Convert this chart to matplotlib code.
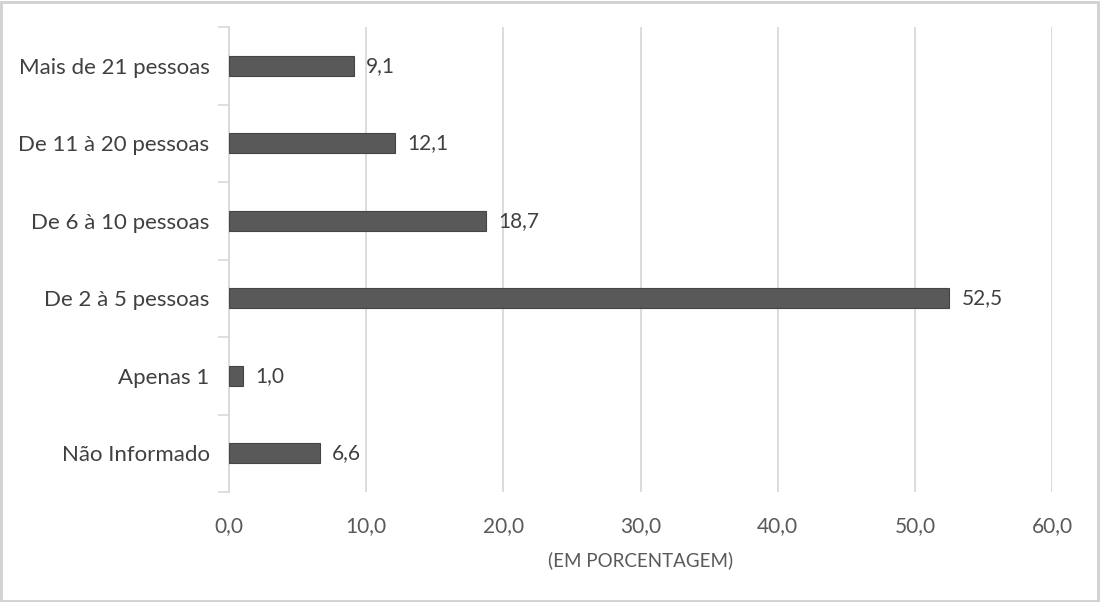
import matplotlib.pyplot as plt
from matplotlib.patches import Rectangle

categories = ["Não Informado", "Apenas 1", "De 2 à 5 pessoas",
              "De 6 à 10 pessoas", "De 11 à 20 pessoas", "Mais de 21 pessoas"]
values = [6.6, 1.0, 52.5, 18.7, 12.1, 9.1]
xticks = [0, 10, 20, 30, 40, 50, 60]

text_color = "#595959"
grid_color = "#d9d9d9"

plt.rcParams["font.family"] = ["Lato", "DejaVu Sans"]

fig = plt.figure(figsize=(11, 6.02), dpi=100)
ax = fig.add_axes([0.2082, 0.1827, 0.7482, 0.7724])

pos = range(len(categories))
ax.barh(pos, values, height=0.26, color="#595959", edgecolor="#454545",
        linewidth=0.8, zorder=3)

for y, v in zip(pos, values):
    ax.text(v + 0.9, y, f"{v:.1f}".replace(".", ","), va="center", ha="left",
            fontsize=15, color="#404040")

ax.set_xlim(0, 60)
ax.set_ylim(-0.5, len(categories) - 0.5)
ax.set_xticks(xticks)
ax.set_xticklabels([f"{t:.1f}".replace(".", ",") for t in xticks],
                   fontsize=15, color=text_color)
ax.set_yticks(list(pos))
ax.set_yticklabels(categories, fontsize=16, color="#404040")
ax.tick_params(axis="y", length=0, pad=14)
ax.tick_params(axis="x", length=0, pad=17)

# category boundary ticks on the left axis
ax.set_yticks([i - 0.5 for i in range(len(categories) + 1)], minor=True)
ax.tick_params(axis="y", which="minor", length=8, color=grid_color, width=1.2)

ax.grid(axis="x", color=grid_color, linewidth=1.3, zorder=0)
for s in ["top", "right", "bottom"]:
    ax.spines[s].set_visible(False)
ax.spines["left"].set_color(grid_color)
ax.spines["left"].set_linewidth(1.3)

ax.set_xlabel("(EM PORCENTAGEM)", fontsize=13.5, color=text_color, labelpad=11)

fig.patches.append(Rectangle((0.001, 0.002), 0.997, 0.995, transform=fig.transFigure,
                             fill=False, edgecolor="#d0d0d0", linewidth=2))

fig.savefig("out.png", dpi=100)
